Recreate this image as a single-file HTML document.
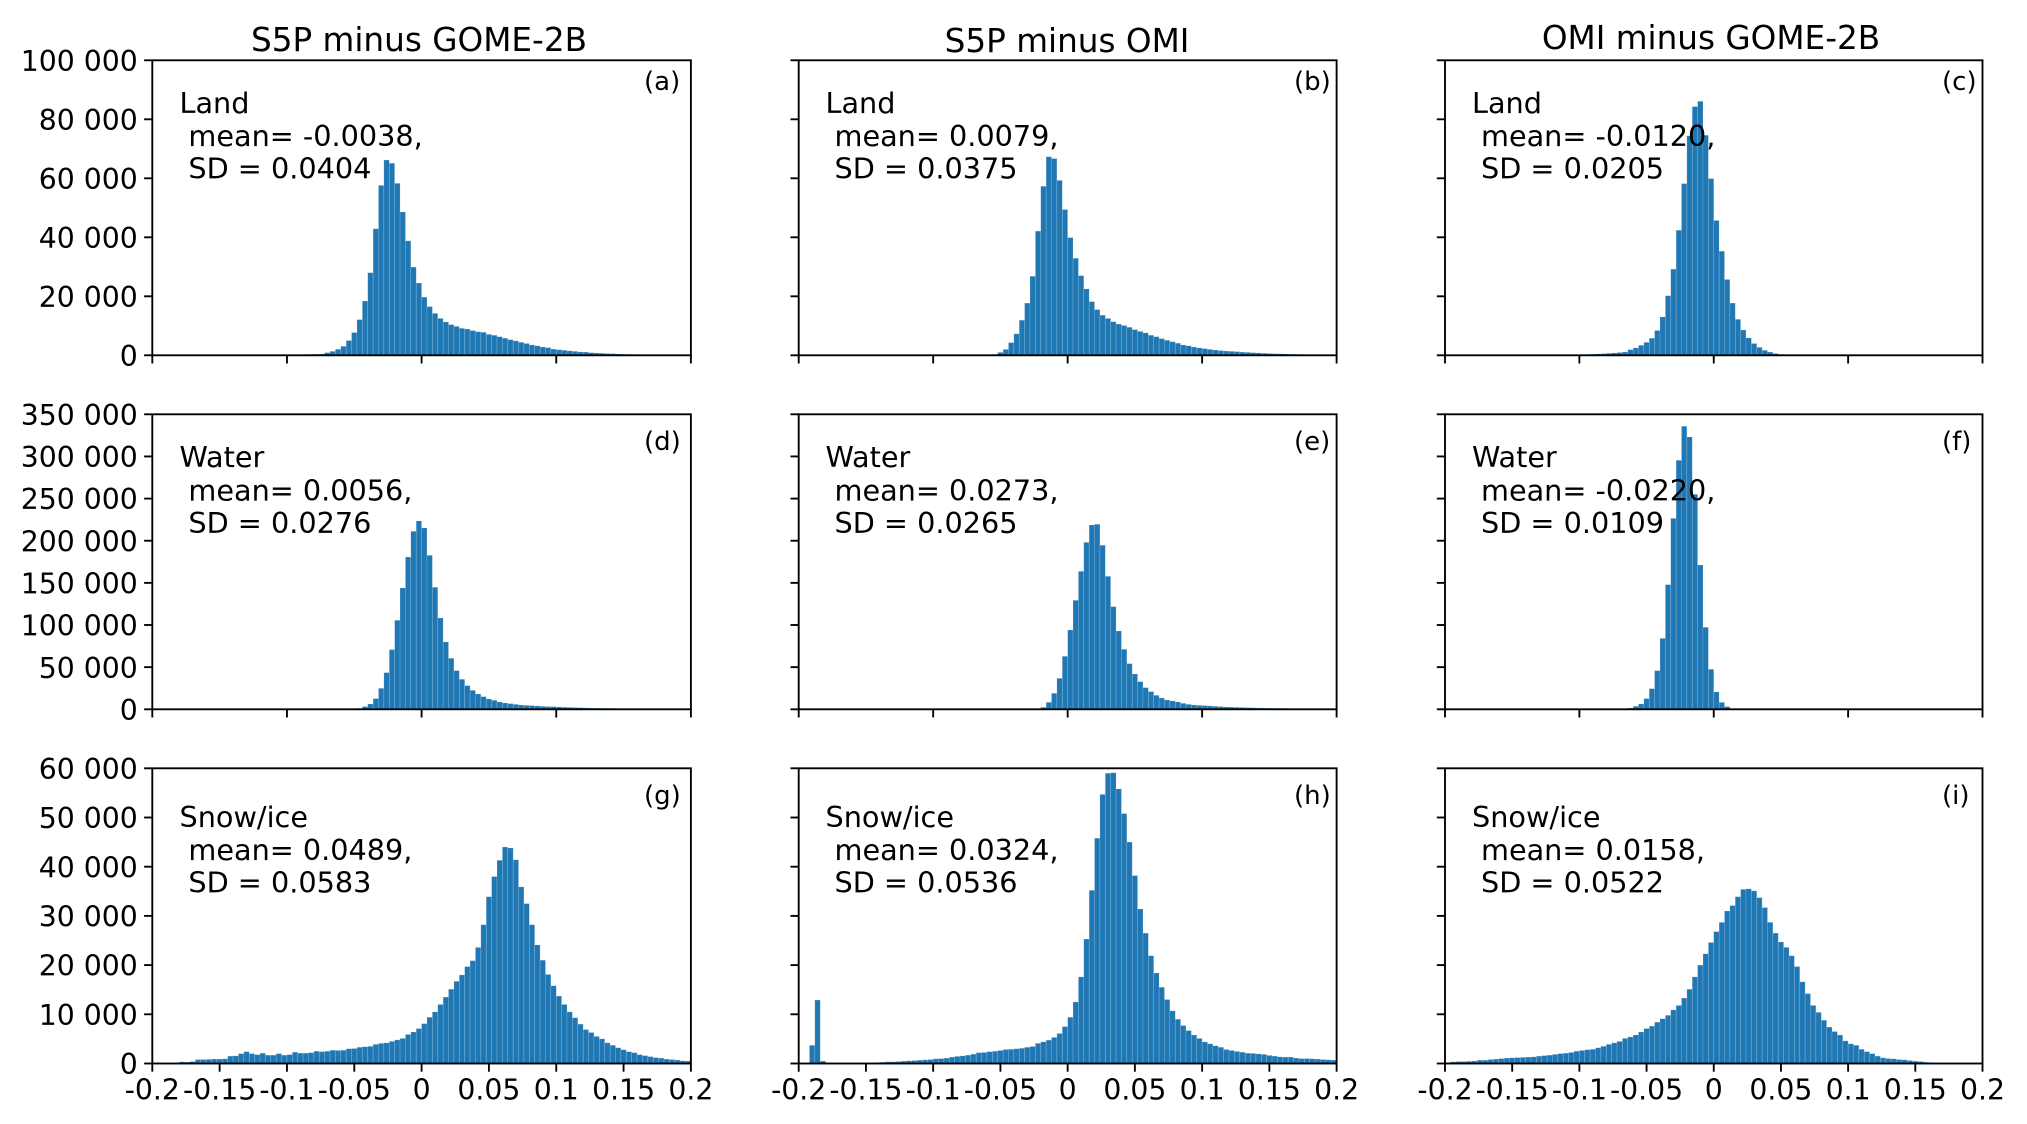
<!DOCTYPE html>
<html lang="en">
<head>
<meta charset="utf-8">
<title>Histograms of differences: S5P, OMI and GOME-2B</title>
<style>
html,body{margin:0;padding:0;background:#fff;}
svg{display:block;}
text{font-family:"DejaVu Sans","Liberation Sans",sans-serif;fill:#000;}
.title{font-size:32.67px;text-anchor:middle;}
.note{font-size:28.7px;}
.tag{font-size:26px;}
.tick-label{font-size:28.3px;}
</style>
</head>
<body>
<svg id="figure" xmlns="http://www.w3.org/2000/svg" width="2027" height="1124" viewBox="0 0 2027 1124">
  <rect x="0" y="0" width="2027" height="1124" fill="#fff"/>
  <g id="marks"></g>
  <g>
    <text class="title" x="419" y="51">S5P minus GOME-2B</text>
    <text class="title" x="1067" y="52">S5P minus OMI</text>
    <text class="title" x="1711" y="49">OMI minus GOME-2B</text>
  </g>
  <g>
    <text class="note" x="179.5" y="113">Land</text>
    <text class="note" x="188.4" y="146">mean= -0.0038,</text>
    <text class="note" x="188.4" y="178.6">SD = 0.0404</text>
    <text class="tag" x="644" y="90">(a)</text>

    <text class="note" x="825.5" y="113">Land</text>
    <text class="note" x="834.5" y="146">mean= 0.0079,</text>
    <text class="note" x="834.5" y="178.6">SD = 0.0375</text>
    <text class="tag" x="1294" y="90">(b)</text>

    <text class="note" x="1472" y="113">Land</text>
    <text class="note" x="1481" y="146">mean= -0.0120,</text>
    <text class="note" x="1481" y="178.6">SD = 0.0205</text>
    <text class="tag" x="1942" y="90">(c)</text>

    <text class="note" x="179.5" y="467">Water</text>
    <text class="note" x="188.4" y="500.4">mean= 0.0056,</text>
    <text class="note" x="188.4" y="532.8">SD = 0.0276</text>
    <text class="tag" x="644" y="450">(d)</text>

    <text class="note" x="825.5" y="467">Water</text>
    <text class="note" x="834.5" y="500.4">mean= 0.0273,</text>
    <text class="note" x="834.5" y="532.8">SD = 0.0265</text>
    <text class="tag" x="1294" y="450">(e)</text>

    <text class="note" x="1472" y="467">Water</text>
    <text class="note" x="1481" y="500.4">mean= -0.0220,</text>
    <text class="note" x="1481" y="532.8">SD = 0.0109</text>
    <text class="tag" x="1942" y="450">(f)</text>

    <text class="note" x="179.5" y="827">Snow/ice</text>
    <text class="note" x="188.4" y="860">mean= 0.0489,</text>
    <text class="note" x="188.4" y="892.4">SD = 0.0583</text>
    <text class="tag" x="644" y="804">(g)</text>

    <text class="note" x="825.5" y="827">Snow/ice</text>
    <text class="note" x="834.5" y="860">mean= 0.0324,</text>
    <text class="note" x="834.5" y="892.4">SD = 0.0536</text>
    <text class="tag" x="1294" y="804">(h)</text>

    <text class="note" x="1472" y="827">Snow/ice</text>
    <text class="note" x="1481" y="860">mean= 0.0158,</text>
    <text class="note" x="1481" y="892.4">SD = 0.0522</text>
    <text class="tag" x="1942" y="804">(i)</text>
  </g>
</svg>
<script>
/* ---------- axis values and tick labels ---------- */
const xMin = -0.2;
const xMax = 0.2;
const binWidth = 0.004;
const xTicksSparse = [-0.2, -0.1, 0, 0.1, 0.2];
const xTicksDense = [-0.2, -0.15, -0.1, -0.05, 0, 0.05, 0.1, 0.15, 0.2];
const xTickLabels = ["-0.2", "-0.15", "-0.1", "-0.05", "0", "0.05", "0.1", "0.15", "0.2"];
const yMaxLand = 100000;
const yMaxWater = 350000;
const yMaxSnow = 60000;
const yTicksLand = [0, 20000, 40000, 60000, 80000, 100000];
const yTickLabelsLand = ["0", "20 000", "40 000", "60 000", "80 000", "100 000"];
const yTicksWater = [0, 50000, 100000, 150000, 200000, 250000, 300000, 350000];
const yTickLabelsWater = ["0", "50 000", "100 000", "150 000", "200 000", "250 000", "300 000", "350 000"];
const yTicksSnow = [0, 10000, 20000, 30000, 40000, 50000, 60000];
const yTickLabelsSnow = ["0", "10 000", "20 000", "30 000", "40 000", "50 000", "60 000"];

/* ---------- histogram counts, one value per 0.004-wide bin from -0.2 to 0.2 ---------- */
const countsA = [
  0,0,0,0,0,0,0,0,0,0,
  0,0,0,0,0,0,0,0,0,0,
  0,0,0,50,100,150,200,250,300,350,
  400,450,900,1350,2050,3050,5000,7700,12100,18400,
  28000,42900,57600,66200,65100,58300,48600,38800,29900,24500,
  19700,16500,14200,12500,11300,10400,9800,9150,8900,8400,
  8000,7800,7100,6800,6300,5800,5300,4900,4400,4000,
  3500,3200,2800,2600,2100,1900,1700,1500,1350,1150,
  1100,900,800,700,600,550,450,400,350,300,
  250,200,180,150,120,100,80,70,60,50
];
const countsB = [
  0,0,0,0,0,0,0,0,0,0,
  0,0,0,0,0,0,0,0,0,0,
  0,0,0,0,0,0,0,0,0,0,
  0,0,0,0,50,100,340,1000,2000,4300,
  7300,11900,17700,26800,42100,57300,67300,66700,59300,49400,
  39900,32900,27000,22500,18200,15500,13600,12500,11400,10600,
  10100,9500,8700,8100,7600,6800,6300,5650,5100,4600,
  4100,3500,3200,2800,2500,2250,2000,1800,1600,1450,
  1350,1250,1100,1000,900,800,700,600,550,500,
  450,400,350,300,250,220,200,170,150,120
];
const countsC = [
  0,0,0,0,0,0,0,0,0,0,
  0,0,0,0,0,40,50,60,80,100,
  120,150,180,210,250,290,340,400,470,560,
  680,800,950,1130,1920,2500,3400,4400,5800,8400,
  13000,20200,29200,42400,58200,74400,84300,86100,74600,59900,
  45700,35300,25700,17700,12200,8600,5900,4000,2700,1700,
  1100,600,350,220,130,80,50,30,20,0,
  0,0,0,0,0,0,0,0,0,0,
  0,0,0,0,0,0,0,0,0,0,
  0,0,0,0,0,0,0,0,0,0
];
const countsD = [
  0,0,0,0,0,0,0,0,0,0,
  0,0,0,0,0,0,0,0,0,0,
  0,0,0,0,0,0,0,0,0,0,
  0,0,0,0,0,100,200,500,1200,3200,
  6300,12700,24900,43500,70800,105600,144000,180700,211200,223500,
  215200,182700,144800,108400,79900,60500,45900,35600,28100,22500,
  18200,15000,12300,10700,8700,7500,6700,5900,5100,4700,
  4400,4000,3600,3200,3200,2800,2500,2300,2100,1900,
  1700,1500,1400,1300,1200,1100,1000,900,800,750,
  700,650,600,500,450,400,350,300,250,200
];
const countsE = [
  0,0,0,0,0,0,0,0,0,0,
  0,0,0,0,0,0,0,0,0,0,
  0,0,0,0,0,0,0,0,0,0,
  0,0,0,0,0,0,0,0,0,0,
  0,0,100,300,800,2400,8300,19000,36800,62900,
  94100,129300,163700,198100,218700,219500,194600,157800,121800,92900,
  71200,54200,41900,32800,25700,21000,16600,13400,11100,9900,
  8700,7100,5900,5100,4700,4400,4000,3600,3200,2800,
  2600,2400,2200,2000,1800,1600,1500,1400,1300,1200,
  1100,1000,900,800,700,650,600,500,450,400
];
const countsF = [
  0,0,0,0,0,0,0,0,0,0,
  0,0,0,0,0,0,0,0,0,0,
  0,0,0,0,0,0,0,0,0,0,
  100,200,400,800,1600,3600,6300,12700,24500,45900,
  84200,147900,226600,295400,335800,323100,255100,171200,97300,47500,
  20600,8300,3200,800,300,100,0,0,0,0,
  0,0,0,0,0,0,0,0,0,0,
  0,0,0,0,0,0,0,0,0,0,
  0,0,0,0,0,0,0,0,0,0,
  0,0,0,0,0,0,0,0,0,0
];
const countsG = [
  0,0,0,0,100,340,300,400,800,800,
  850,900,900,950,1500,1550,2000,2400,2000,1800,
  2100,1700,1700,2000,1700,1800,2300,2100,2100,2200,
  2500,2400,2500,2700,2650,2700,3000,3050,3300,3400,
  3500,3900,4100,4200,4500,4800,5100,5900,6400,7100,
  8100,9400,10500,12000,13500,15100,16700,18000,19700,20900,
  23600,28200,33900,38000,41300,44000,43800,41400,35900,32500,
  28200,24100,21000,18100,15800,13700,12000,10500,9300,8000,
  6900,6300,5500,5000,4200,3700,3200,2800,2400,2200,
  1800,1600,1400,1200,1100,900,800,700,550,500
];
const countsH = [
  0,0,3700,12900,500,150,50,0,0,0,
  0,0,100,150,200,270,340,340,400,480,
  550,600,680,750,800,950,1000,1100,1300,1450,
  1550,1700,1900,2200,2250,2400,2500,2650,2850,2900,
  3000,3100,3300,3450,4100,4400,4750,5300,6100,7500,
  9400,12500,17600,25300,35200,45800,54700,59000,59100,55800,
  50800,45000,38200,31400,26500,21900,18400,15500,13000,10700,
  9000,7700,6700,5800,5100,4400,4000,3600,3300,2850,
  2650,2450,2300,2100,2050,1950,1850,1650,1500,1350,
  1300,1300,1100,1000,1000,950,900,800,750,700
];
const countsI = [
  200,340,400,400,450,500,680,680,800,900,
  1000,1100,1150,1200,1250,1300,1350,1500,1600,1700,
  1850,2000,2100,2250,2500,2650,2800,2900,3200,3500,
  3900,4200,4500,5100,5400,5800,6400,7100,7600,8400,
  9100,9800,10900,11800,13300,15100,17600,20000,22300,24600,
  26800,28700,31000,32100,33900,35400,35500,35100,33700,31700,
  28700,26500,24700,23600,21900,19700,16600,14200,11800,10400,
  8800,7400,6500,5800,4600,4000,3700,2900,2400,2000,
  1500,1150,1000,950,800,750,600,480,400,270,
  200,150,100,80,60,40,20,0,0,0
];

/* ---------- drawing ---------- */
const SVG_NS = 'http://www.w3.org/2000/svg';
const BAR_FILL = '#1f77b4';
const TICK_LEN = 8.2;
const LINE_W = 1.87;
const marksRoot = document.getElementById('marks');

function svgEl(tag, parent) {
  const el = document.createElementNS(SVG_NS, tag);
  parent.appendChild(el);
  return el;
}
function setAttrs(el, attrs) {
  Object.keys(attrs).forEach(function (k) { el.setAttribute(k, attrs[k]); });
}

function drawPanel(id, frame, counts, yMax, yTicks, yTickLabels, showYLabels, xTicks, showXLabels) {
  const xScale = function (v) { return frame.left + (v - xMin) / (xMax - xMin) * (frame.right - frame.left); };
  const yScale = function (v) { return frame.bottom - v / yMax * (frame.bottom - frame.top); };

  const group = svgEl('g', marksRoot);
  
  

  const bars = svgEl('g', group);
  
  
  counts.forEach(function (count, k) {
    const x0 = xScale(xMin + k * binWidth);
    const x1 = xScale(xMin + (k + 1) * binWidth);
    const y1 = yScale(count);
    const bar = svgEl('rect', bars);
    
    
    setAttrs(bar, {
      x: x0, y: y1, width: x1 - x0, height: Math.max(frame.bottom - y1, 0),
      fill: BAR_FILL, stroke: '#ffffff', 'stroke-opacity': 0.22, 'stroke-width': 0.7
    });
  });

  const frameRect = svgEl('rect', group);
  
  
  setAttrs(frameRect, {
    x: frame.left, y: frame.top, width: frame.right - frame.left, height: frame.bottom - frame.top,
    fill: 'none', stroke: '#000', 'stroke-width': LINE_W
  });

  const xAxis = svgEl('g', group);
  
  
  xTicks.forEach(function (value, i) {
    const tick = svgEl('line', xAxis);
    
    
    setAttrs(tick, {
      x1: xScale(value), x2: xScale(value), y1: frame.bottom, y2: frame.bottom + TICK_LEN,
      stroke: '#000', 'stroke-width': LINE_W
    });
    if (showXLabels) {
      const label = svgEl('text', xAxis);
      
      
      label.setAttribute('class', 'tick-label');
      setAttrs(label, { x: xScale(value), y: frame.bottom + 36, 'text-anchor': 'middle' });
      label.textContent = xTickLabels[i];
    }
  });

  const yAxis = svgEl('g', group);
  
  
  yTicks.forEach(function (value, i) {
    const tick = svgEl('line', yAxis);
    
    
    setAttrs(tick, {
      x1: frame.left - TICK_LEN, x2: frame.left, y1: yScale(value), y2: yScale(value),
      stroke: '#000', 'stroke-width': LINE_W
    });
    if (showYLabels) {
      const label = svgEl('text', yAxis);
      
      
      label.setAttribute('class', 'tick-label');
      setAttrs(label, { x: frame.left - 14.5, y: yScale(value) + 10.6, 'text-anchor': 'end' });
      label.textContent = yTickLabels[i];
    }
  });
}

const colA = { left: 152.3, right: 690.9 };
const colB = { left: 798.7, right: 1336.6 };
const colC = { left: 1445, right: 1982.5 };
const rowLand = { top: 60.3, bottom: 355.3 };
const rowWater = { top: 414.3, bottom: 709.3 };
const rowSnow = { top: 768.3, bottom: 1063.5 };
function frameOf(col, row) {
  return { left: col.left, right: col.right, top: row.top, bottom: row.bottom };
}

drawPanel('a', frameOf(colA, rowLand), countsA, yMaxLand, yTicksLand, yTickLabelsLand, true, xTicksSparse, false);
drawPanel('b', frameOf(colB, rowLand), countsB, yMaxLand, yTicksLand, yTickLabelsLand, false, xTicksSparse, false);
drawPanel('c', frameOf(colC, rowLand), countsC, yMaxLand, yTicksLand, yTickLabelsLand, false, xTicksSparse, false);
drawPanel('d', frameOf(colA, rowWater), countsD, yMaxWater, yTicksWater, yTickLabelsWater, true, xTicksSparse, false);
drawPanel('e', frameOf(colB, rowWater), countsE, yMaxWater, yTicksWater, yTickLabelsWater, false, xTicksSparse, false);
drawPanel('f', frameOf(colC, rowWater), countsF, yMaxWater, yTicksWater, yTickLabelsWater, false, xTicksSparse, false);
drawPanel('g', frameOf(colA, rowSnow), countsG, yMaxSnow, yTicksSnow, yTickLabelsSnow, true, xTicksDense, true);
drawPanel('h', frameOf(colB, rowSnow), countsH, yMaxSnow, yTicksSnow, yTickLabelsSnow, false, xTicksDense, true);
drawPanel('i', frameOf(colC, rowSnow), countsI, yMaxSnow, yTicksSnow, yTickLabelsSnow, false, xTicksDense, true);
</script>
</body>
</html>
